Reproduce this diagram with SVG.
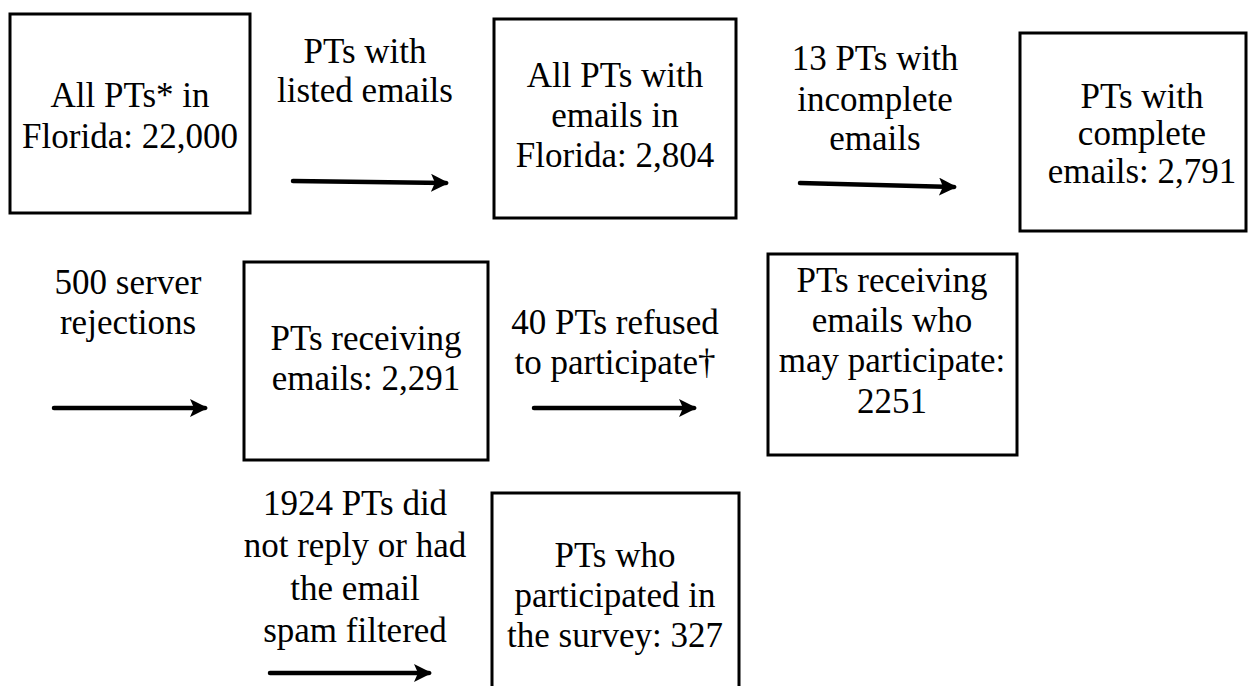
<svg xmlns="http://www.w3.org/2000/svg" width="1248" height="686" viewBox="0 0 1248 686">
<style>
.box{fill:#fff;stroke:#000;stroke-width:3}
text{font-family:"Liberation Serif","Times New Roman",serif;font-size:35px;fill:#000;text-anchor:middle}
.arr{stroke:#000;stroke-width:4.5;stroke-linecap:round;fill:none}
</style>
<defs>
<marker id="ah" viewBox="0 0 18 18" refX="15" refY="9" markerWidth="18" markerHeight="18" orient="auto" markerUnits="userSpaceOnUse">
<path d="M0,0 L18,9 L0,18 L4,9 Z" fill="#000"/>
</marker>
</defs>
<rect width="1248" height="686" fill="#fff"/>
<g id="n1"><rect class="box" x="10" y="14" width="240" height="199"/>
<text x="130" y="107">All PTs* in</text><text x="130" y="148">Florida: 22,000</text></g>
<g id="n2"><rect class="box" x="494" y="19" width="242" height="199"/>
<text x="615" y="87">All PTs with</text><text x="615" y="127">emails in</text><text x="615" y="167">Florida: 2,804</text></g>
<g id="n3"><rect class="box" x="1020" y="33" width="226" height="198"/>
<text x="1142" y="108">PTs with</text><text x="1142" y="145">complete</text><text x="1142" y="183">emails: 2,791</text></g>
<g id="n4"><rect class="box" x="244" y="262" width="244" height="198"/>
<text x="366" y="350">PTs receiving</text><text x="366" y="390">emails: 2,291</text></g>
<g id="n5"><rect class="box" x="768" y="254" width="249" height="201"/>
<text x="892" y="292">PTs receiving</text><text x="892" y="332">emails who</text><text x="892" y="372">may participate:</text><text x="892" y="413">2251</text></g>
<g id="n6"><rect class="box" x="492" y="493" width="247" height="210"/>
<text x="615" y="567">PTs who</text><text x="615" y="607">participated in</text><text x="615" y="647">the survey: 327</text></g>
<g id="connectors">
<line class="arr" x1="293" y1="181" x2="446" y2="183" marker-end="url(#ah)"/>
<line class="arr" x1="800" y1="183" x2="954" y2="187" marker-end="url(#ah)"/>
<line class="arr" x1="54" y1="408" x2="205" y2="408" marker-end="url(#ah)"/>
<line class="arr" x1="534" y1="408" x2="694" y2="408" marker-end="url(#ah)"/>
<line class="arr" x1="270" y1="673" x2="429" y2="673" marker-end="url(#ah)"/>
<text x="365" y="63">PTs with</text><text x="365" y="102">listed emails</text>
<text x="875" y="70">13 PTs with</text><text x="875" y="111">incomplete</text><text x="875" y="150">emails</text>
<text x="128" y="294">500 server</text><text x="128" y="334">rejections</text>
<text x="615" y="334">40 PTs refused</text><text x="615" y="374">to participate†</text>
<text x="355" y="515">1924 PTs did</text><text x="355" y="557">not reply or had</text><text x="355" y="600">the email</text><text x="355" y="642">spam filtered</text>
</g>
</svg>
